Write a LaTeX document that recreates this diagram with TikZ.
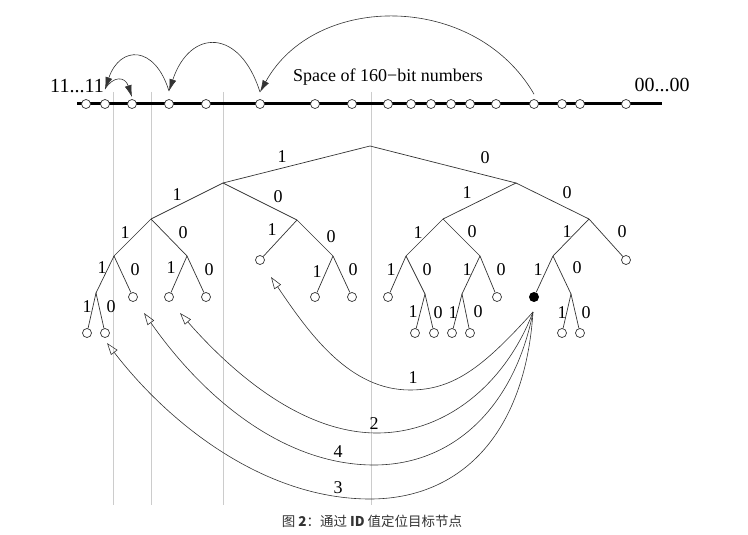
\documentclass[tikz,border=0pt]{standalone}
\usepackage{fontspec}
\setmainfont{Liberation Serif}
\newfontfamily\cjk{Noto Sans CJK SC}
\usetikzlibrary{arrows.meta}
\definecolor{guide}{HTML}{CCCCCC}
\definecolor{ink}{HTML}{333333}

\begin{document}
\begin{tikzpicture}[
    x=1pt, y=-1pt,
    leaf/.style={draw=ink, circle, fill=white, minimum size=9pt, inner sep=0pt, line width=0.7pt},
    hit/.style={fill=black, circle, minimum size=10pt, inner sep=0pt},
    edge/.style={draw=ink, line width=0.7pt},
    bit/.style={font=\fontsize{18}{18}\selectfont, inner sep=0pt},
    jump/.style={-{Latex[length=12pt,width=7pt]}, line width=0.6pt, draw=ink},
    hop/.style={-{Triangle[open,length=12pt,width=8pt]}, line width=0.6pt, draw=ink},
    guideline/.style={draw=guide, line width=0.7pt}
]
    \useasboundingbox (0,0) rectangle (748,535);

    \foreach \x in {113,151,223,371}
        \draw[guideline] (\x,92) -- (\x,505);

    % the id space
    \draw[line width=3pt] (77,104) -- (662,104);
    \foreach \x [count=\i] in {86,105,132,169,206,260,315,352,388,411,431,451,470,496,534,562,580,626}
        \node[leaf] (p\i) at (\x,104) {};
    \node[font=\fontsize{20}{20}\selectfont] (low) at (77,86) {11...11};
    \node[font=\fontsize{20}{20}\selectfont] (high) at (662,85) {00...00};
    \node[font=\fontsize{18}{18}\selectfont] (space) at (388,77) {Space of 160−bit numbers};

    \coordinate (s15) at ([yshift=5pt]p15.north);
    \coordinate (s6) at ([yshift=7pt]p6.north);
    \coordinate (s4) at ([yshift=8pt]p4.north);
    \coordinate (s2) at ([yshift=10pt]p2.north);
    \coordinate (s3) at ([yshift=2pt]p3.north);
    \draw[jump] (s15) .. controls (475,-8) and (315,-8) .. (s6);
    \draw[jump] (s6) .. controls (240,28) and (190,28) .. (s4);
    \draw[jump] (s4) .. controls (155,45) and (120,45) .. (s2);
    \draw[jump] (s2) .. controls (113,76) and (125,76) .. (s3);

    % the routing tree
    \coordinate (root) at (370,146);
    \coordinate (n1) at (223,183);
    \coordinate (n0) at (516,183);
    \coordinate (n11) at (151,219);
    \coordinate (n10) at (297,220);
    \coordinate (n01) at (443,219);
    \coordinate (n00) at (589,219);
    \coordinate (n111) at (114,256);
    \coordinate (n110) at (187,256);
    \coordinate (n100) at (333,256);
    \coordinate (n011) at (406,256);
    \coordinate (n010) at (480,256);
    \coordinate (n001) at (553,256);
    \coordinate (n1111) at (96,293);
    \coordinate (n0110) at (425,294);
    \coordinate (n0101) at (462,294);
    \coordinate (n0010) at (571,294);
    \foreach \n/\x/\y in {n101/260/260, n000/626/260, n1110/133/297, n1101/169/297,
                          n1100/206/297, n1001/315/297, n1000/352/297, n0111/388/297,
                          n0100/497/297, n11111/87/333, n11110/105/333, n01101/415/333,
                          n01100/434/333, n01011/452/333, n01010/470/333, n00101/562/333,
                          n00100/580/333}
        \node[leaf] (\n) at (\x,\y) {};
    \node[hit] (n0011) at (534,297) {};

    \foreach \a/\b in {root/n1, root/n0, n1/n11, n1/n10, n0/n01, n0/n00,
                       n11/n111, n11/n110, n10/n101, n10/n100, n01/n011, n01/n010,
                       n00/n001, n00/n000, n111/n1111, n111/n1110, n110/n1101,
                       n110/n1100, n100/n1001, n100/n1000, n011/n0111, n011/n0110,
                       n010/n0101, n010/n0100, n001/n0011, n001/n0010,
                       n1111/n11111, n1111/n11110, n0110/n01101, n0110/n01100,
                       n0101/n01011, n0101/n01010, n0010/n00101, n0010/n00100}
        \draw[edge] (\a) -- (\b);

    \foreach \x/\y/\t [count=\i] in {282/157/1, 485/158/0,
            177/195/1, 278/197/0, 467/193/1, 567/193/0,
            125/233/1, 183/233/0, 272/230/1, 331/237/0, 418/233/1, 472/232/0, 567/232/1, 622/232/0,
            102/268/1, 135/270/0, 171/268/1, 209/270/0, 317/272/1, 353/270/0,
            391/270/1, 427/270/0, 467/270/1, 501/270/0, 538/270/1, 577/268/0,
            87/307/1, 111/307/0, 413/312/1, 438/313/0, 453/313/1, 478/312/0, 562/313/1, 586/313/0}
        \node[bit] (b\i) at (\x,\y) {\t};

    % lookup hops
    \coordinate (src) at (533,312);
    \coordinate (t1) at (271,277);
    \coordinate (t2) at (180,313);
    \coordinate (t4) at (144,313);
    \coordinate (t3) at (107,343);
    \draw[hop] (src) .. controls (485,365) and (455,390) .. (410,390) .. controls (350,390) and (310,335) .. (t1);
    \draw[hop] (src) .. controls (505,385) and (445,433) .. (377,433) .. controls (300,433) and (230,370) .. (t2);
    \draw[hop] (src) .. controls (515,405) and (455,465) .. (374,465) .. controls (285,465) and (205,400) .. (t4);
    \draw[hop] (src) .. controls (525,435) and (460,499) .. (370,499) .. controls (265,499) and (170,425) .. (t3);
    \node[bit] (h1) at (413,378) {1};
    \node[bit] (h2) at (374,424) {2};
    \node[bit] (h4) at (338,452) {4};
    \node[bit] (h3) at (338,488) {3};

    \node[font=\cjk\fontsize{13.5}{14}\selectfont, text=ink] (cap) at (372,521)
        {图 \textbf{2}：通过 \textbf{ID} 值定位目标节点};
\end{tikzpicture}
\end{document}
